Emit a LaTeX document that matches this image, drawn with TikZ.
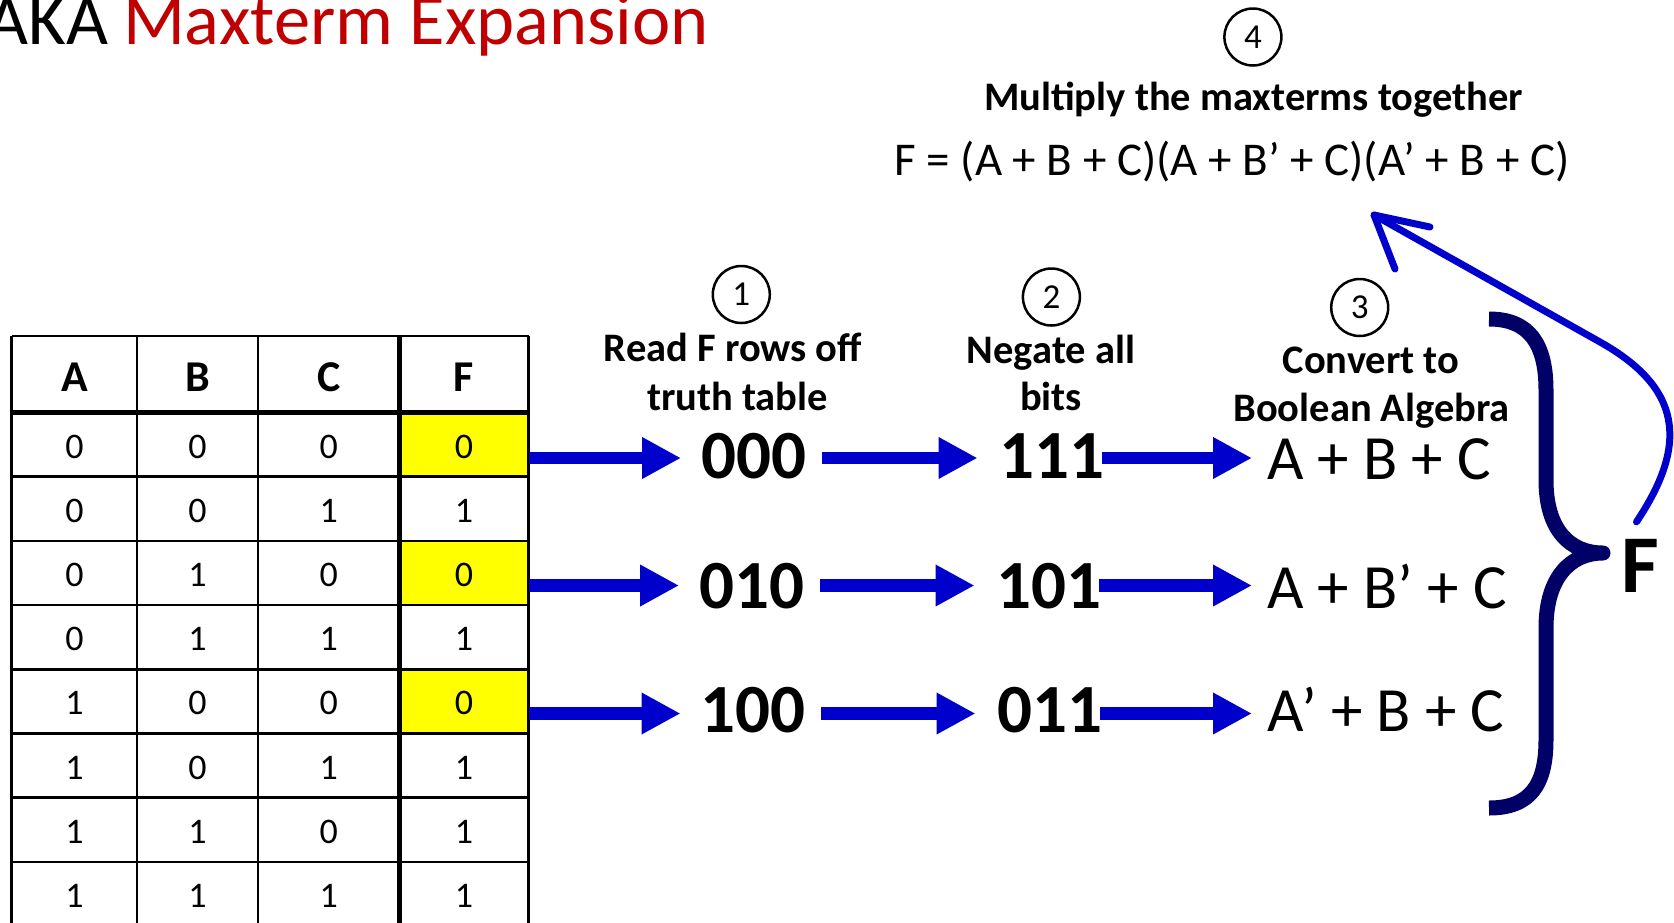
\documentclass[tikz,border=0pt]{standalone}
\usepackage{fontspec}
\setmainfont{Carlito}
\usetikzlibrary{arrows.meta,calc}
\definecolor{arrowblue}{HTML}{0000CC}
\definecolor{bracenavy}{HTML}{000066}
\definecolor{titlered}{HTML}{C00000}
\definecolor{hlyellow}{HTML}{FFFF00}
\newcommand\fsz[1]{\fontsize{#1}{#1}\selectfont}
\begin{document}
\begin{tikzpicture}[x=1pt,y=-1pt,
  txt/.style={inner sep=0pt,outer sep=0pt},
  hdr/.style={txt,minimum height=76pt,font=\fsz{44}\bfseries},
  cell/.style={txt,minimum height=64.2pt,font=\fsz{36}},
  steplabel/.style={txt,anchor=base,font=\fsz{40.5}\bfseries},
  stepnum/.style={circle,draw,line width=2.5pt,minimum size=57pt,inner sep=0pt,font=\fsz{35}},
  bits/.style={txt,anchor=base,font=\fsz{69}\bfseries},
  maxt/.style={txt,anchor=base west,font=\fsz{63}},
  barrow/.style={arrowblue,line width=12.6pt,-{Triangle[length=39pt,width=39pt]}},
  thin grid/.style={line width=2.5pt},
  thick grid/.style={line width=5.5pt},
  curvearrow/.style={arrowblue,line width=7pt,line cap=round,line join=round},
  bracestyle/.style={bracenavy,line width=15pt,line join=round}
]
\clip (0,0) rectangle (1674,922);
\fill[white] (0,0) rectangle (1674,922);

% title
\node[txt,anchor=base east,font=\fsz{72.5}] (aka) at (108,44) {AKA};
\node[txt,anchor=base west,font=\fsz{72.5},text=titlered] (title) at (123,44) {Maxterm Expansion};

% table highlight
\fill[hlyellow] (399.4,412.5) rectangle (528.6,476.7);
\fill[hlyellow] (399.4,540.9) rectangle (528.6,605.1);
\fill[hlyellow] (399.4,669.3) rectangle (528.6,733.5);

% grid
\foreach \yy in {336,476.7,540.9,605.1,669.3,733.5,797.7,861.9}
  \draw[thin grid] (11.7,\yy) -- (528.6,\yy);
\draw[thick grid] (11.7,412.5) -- (528.6,412.5);
\foreach \xx in {11.7,137.2,257.9,528.6}
  \draw[thin grid] (\xx,336) -- (\xx,930);
\draw[thick grid] (399.4,336) -- (399.4,930);

% header
\node[hdr,minimum width=125.5pt] (hA) at (74.45,377.5) {A};
\node[hdr,minimum width=120.7pt] (hB) at (197.55,377.5) {B};
\node[hdr,minimum width=141.5pt] (hC) at (328.65,377.5) {C};
\node[hdr,minimum width=129.2pt] (hF) at (464,377.5) {F};

% rows
\foreach \i/\a/\b/\c/\f in {0/0/0/0/0,1/0/0/1/1,2/0/1/0/0,3/0/1/1/1,4/1/0/0/0,5/1/0/1/1,6/1/1/0/1,7/1/1/1/1}{
  \pgfmathsetmacro\yc{412.5+64.2*\i+34}
  \node[cell,minimum width=125.5pt] (a\i) at (74.45,\yc) {\a};
  \node[cell,minimum width=120.7pt] (b\i) at (197.55,\yc) {\b};
  \node[cell,minimum width=141.5pt] (c\i) at (328.65,\yc) {\c};
  \node[cell,minimum width=129.2pt] (f\i) at (464,\yc) {\f};
}

% step labels
\node[stepnum] (s1) at (741.3,294.5) {1};
\node[stepnum] (s2) at (1051.4,297) {2};
\node[stepnum] (s3) at (1359.7,307.5) {3};
\node[stepnum] (s4) at (1252.9,37) {4};
\node[steplabel] (l1a) at (733,361.7) {Read F rows off};
\node[steplabel] (l1b) at (737.5,410) {truth table};
\node[steplabel] (l2a) at (1051,363) {Negate all};
\node[steplabel] (l2b) at (1051,410) {bits};
\node[steplabel] (l3a) at (1371,373) {Convert to};
\node[steplabel] (l3b) at (1371.6,421.7) {Boolean Algebra};
\node[steplabel] (l4) at (1253.5,110) {Multiply the maxterms together};
\node[txt,anchor=base,font=\fsz{47}] (eq) at (1232,175) {F = (A + B + C)(A + B’ + C)(A’ + B + C)};

% bits and maxterms
\node[bits] (n0) at (753.5,478) {000};
\node[bits] (n1) at (751.5,608) {010};
\node[bits] (n2) at (753,732) {100};
\node[bits] (m0) at (1052,478) {111};
\node[bits] (m1) at (1049,608) {101};
\node[bits] (m2) at (1050,732) {011};
\node[maxt] (t0) at (1267,479) {A + B + C};
\node[maxt] (t1) at (1267,608.5) {A + B’ + C};
\node[maxt] (t2) at (1267,731) {A’ + B + C};

% arrows
\foreach \r/\yy in {0/458,1/585.5,2/713.5}{
  \coordinate (p\r) at (0,\yy);
  \draw[barrow] (f\r.east |- p\r) -- ([xshift=-20pt]n\r.west |- p\r);
  \draw[barrow] ([xshift=16pt]n\r.east |- p\r) -- ([xshift=-22pt]m\r.west |- p\r);
  \draw[barrow] ([xshift=-2pt]m\r.east |- p\r) -- ([xshift=-15pt]t\r.west |- p\r);
}

% brace and F
\draw[bracestyle] (1489,319) .. controls (1530,319) and (1546,345) .. (1546,390)
  -- (1546,480) .. controls (1546,530) and (1570,553) .. (1603,553)
  .. controls (1570,553) and (1546,578) .. (1546,628)
  -- (1546,740) .. controls (1546,785) and (1530,808) .. (1489,808);
\node[txt,anchor=base,font=\fsz{82}\bfseries] (F) at (1640.5,592) {F};

% curved arrow to formula
\coordinate (eqtip) at (1374,215);
\coordinate (fstart) at ([xshift=-4pt,yshift=17pt]F.north);
\draw[curvearrow] (fstart) .. controls (1690,442) and (1680,387) .. (1600,342) -- (eqtip);
\draw[curvearrow] ($(eqtip)+(56,12)$) -- (eqtip) -- ($(eqtip)+(21,54)$);
\end{tikzpicture}
\end{document}
